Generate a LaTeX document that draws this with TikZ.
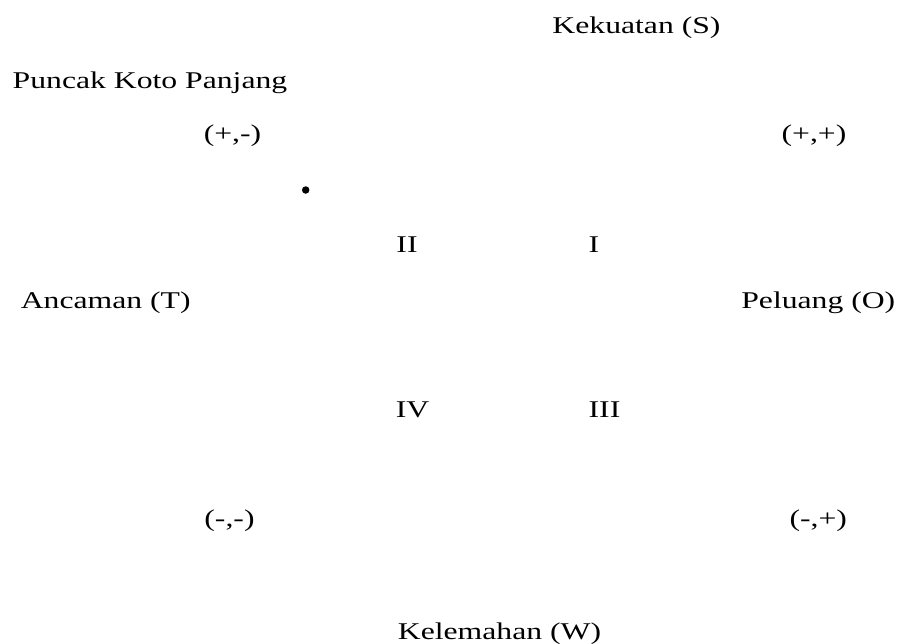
\documentclass[tikz,border=0pt]{standalone}
\usepackage{fontspec}
\setmainfont{Liberation Serif}
\begin{document}
\begin{tikzpicture}[x=1pt,y=-1pt,
  lbl/.style={font=\fontsize{24}{28}\selectfont, inner sep=0pt, anchor=base, xscale=1.32},
  dotmark/.style={circle, fill=black, inner sep=0pt, minimum size=7.5pt}]
\useasboundingbox[fill=white] (0,0) rectangle (899,643);
\node[lbl] (S) at (636.5,33) {Kekuatan (S)};
\node[lbl] (title) at (150,88.3) {Puncak Koto Panjang};
\node[lbl] (pm) at (232.5,141.7) {(+,-)};
\node[lbl] (pp) at (814,141.7) {(+,+)};
\node[dotmark] (pt) at (305.7,190) {};
\node[lbl] (q2) at (407,252.3) {II};
\node[lbl] (q1) at (594,252.3) {I};
\node[lbl] (T) at (105.7,308.7) {Ancaman (T)};
\node[lbl] (O) at (818.3,308.5) {Peluang (O)};
\node[lbl] (q4) at (412.5,417.3) {IV};
\node[lbl] (q3) at (604.5,417.3) {III};
\node[lbl] (mm) at (229.5,526) {(-,-)};
\node[lbl] (mp) at (818.3,526) {(-,+)};
\node[lbl] (W) at (499.5,639.5) {Kelemahan (W)};
\end{tikzpicture}
\end{document}
